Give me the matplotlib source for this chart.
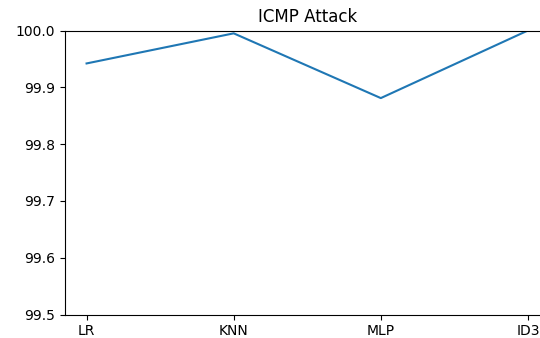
import matplotlib
matplotlib.use("Agg")
import matplotlib.pyplot as plt

models = ["LR", "KNN", "MLP", "ID3"]
accuracy = [99.942, 99.995, 99.881, 100.0]

fig = plt.figure(figsize=(5.4, 3.38), dpi=100)
ax = fig.add_axes([64.5 / 540, 23.5 / 338, 485.5 / 540, 284 / 338])
ax.plot(models, accuracy, color="#1f77b4", linewidth=1.5)
ax.set_ylim(99.5, 100.0)
ax.set_title("ICMP Attack", fontsize=12)
ax.tick_params(labelsize=10)
ax.spines["right"].set_visible(False)
fig.savefig("out.png", dpi=100)
